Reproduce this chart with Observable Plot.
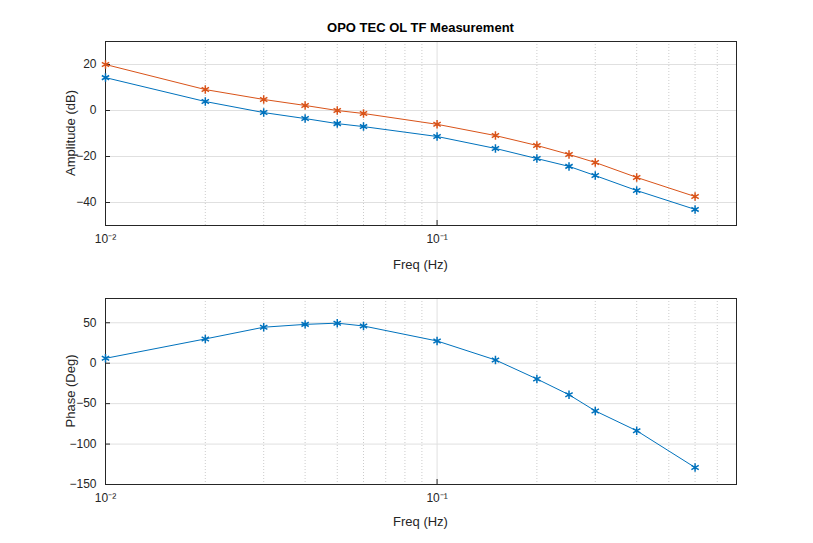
<!DOCTYPE html>
<html><head>
<script src="https://cdn.jsdelivr.net/npm/d3@7"></script>
<script src="https://cdn.jsdelivr.net/npm/@observablehq/plot@0.6"></script>
<style>
body{margin:0;background:#fff;font-family:"Liberation Sans",Arial,sans-serif;}
#wrap{position:relative;width:813px;height:543px;}
.p{position:absolute;left:0;}
.lab{position:absolute;font-size:13px;color:#262626;white-space:nowrap;}
</style>
</head><body><div id="wrap"></div>
<script>
const freq = [0.01,0.02,0.03,0.04,0.05,0.06,0.1,0.15,0.2,0.25,0.3,0.4,0.6];
const ampA = [14.3,3.9,-0.9,-3.5,-5.7,-7,-11.3,-16.5,-20.9,-24.3,-28.3,-34.8,-43];
const ampB = [20,9.1,4.8,2.2,0,-1.3,-6,-10.9,-15.2,-19.1,-22.6,-29.1,-37.4];
const phase = [6,30,44.5,48,49.5,46,27.5,4,-19.5,-39,-59,-83.5,-129];
const majorX = [0.01,0.1];
const minorX = [0.02,0.03,0.04,0.05,0.06,0.07,0.08,0.09,0.2,0.3,0.4,0.5,0.6,0.7,0.8];
const ampTicks = [-40,-20,0,20];
const phTicks = [-150,-100,-50,0,50];
const BLUE="#0072BD", ORANGE="#D95319";
const fmt = d => d===0.01?"10⁻²":d===0.1?"10⁻¹":"";

function panel(series, yDomain, yTicks, h, mt, mb){
  const marks = [
    Plot.ruleX(minorX,{stroke:"#ccc",strokeDasharray:"1,2"}),
    Plot.ruleX(majorX,{stroke:"#e0e0e0"}),
    Plot.ruleY(yTicks,{stroke:"#e0e0e0"}),
    Plot.frame({stroke:"#262626"}),
    Plot.axisX(majorX,{tickFormat:fmt,tickSize:-5,fontSize:12,label:null}),
    Plot.axisY(yTicks,{tickSize:-5,fontSize:12,label:null})
  ];
  for(const s of series){
    const data = freq.map((f,i)=>({f,v:s.v[i]}));
    marks.push(Plot.line(data,{x:"f",y:"v",stroke:s.c,strokeWidth:1}));
    marks.push(Plot.dot(data,{x:"f",y:"v",stroke:s.c,symbol:"asterisk",r:4}));
  }
  return Plot.plot({width:813,height:h,marginLeft:105,marginRight:77,marginTop:mt,marginBottom:mb,
    style:{fontFamily:"Liberation Sans, Arial, sans-serif",fontSize:"12px",color:"#262626",background:"transparent"},
    x:{type:"log",domain:[0.01,0.8]},y:{domain:yDomain},marks});
}
const wrap=document.getElementById("wrap");
function lab(text,css){const d=document.createElement("div");d.className="lab";d.textContent=text;d.style.cssText+=css;wrap.append(d);}
const p1=panel([{v:ampA,c:BLUE},{v:ampB,c:ORANGE}],[-50,30],ampTicks,280,41,55);
p1.classList.add("p");p1.style.top="0px";
const p2=panel([{v:phase,c:BLUE}],[-150,80],phTicks,263,18,59);
p2.classList.add("p");p2.style.top="280px";
wrap.append(p1,p2);
lab("OPO TEC OL TF Measurement","top:20px;left:105px;width:631px;text-align:center;font-weight:bold;color:#000;");
lab("Freq (Hz)","top:257px;left:105px;width:631px;text-align:center;");
lab("Freq (Hz)","top:514px;left:105px;width:631px;text-align:center;");
lab("Amplitude (dB)","top:133px;left:70px;transform:translate(-50%,-50%) rotate(-90deg);");
lab("Phase (Deg)","top:391px;left:70px;transform:translate(-50%,-50%) rotate(-90deg);");
</script></body></html>
